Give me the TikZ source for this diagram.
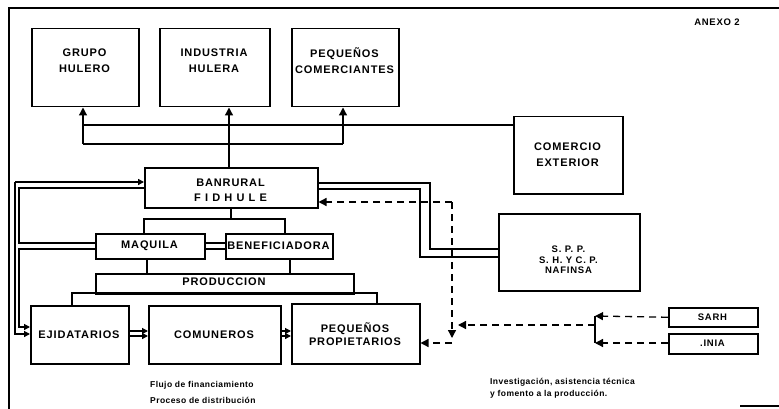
\documentclass[tikz,border=0pt]{standalone}
\usepackage{fontspec}
\setmainfont{Liberation Sans}
\newfontfamily\boxfont[LetterSpace=8]{Liberation Sans}
\newfontfamily\widefont[LetterSpace=38]{Liberation Sans}
\newfontfamily\notefont[LetterSpace=5]{Liberation Sans}
\usetikzlibrary{arrows.meta}
\begin{document}
\begin{tikzpicture}[x=1pt,y=-1pt,
  box/.style={draw, line width=1.5pt, anchor=north west, inner sep=0pt},
  lbl/.style={align=center, inner sep=0pt, font=\boxfont\bfseries\fontsize{11}{16}\selectfont},
  small/.style={align=center, inner sep=0pt, font=\boxfont\bfseries\fontsize{9.5}{10.5}\selectfont},
  note/.style={align=left, anchor=west, inner sep=0pt, font=\notefont\bfseries\fontsize{8.5}{12}\selectfont},
  conn/.style={line width=1.3pt},
  dsh/.style={line width=1.3pt, dash pattern=on 7pt off 5pt},
  fa/.style={-{Triangle[length=6pt,width=6pt]}},
  oa/.style={-{Triangle[length=8pt,width=8pt]}}
]
\useasboundingbox[fill=white] (0,0) rectangle (779,409);

% frame
\draw[line width=2.2pt] (9,409) -- (9,8) -- (779,8);
\draw[line width=1.2pt] (740,406) -- (779,406);
\node[small] (anexo) at (717,22) {ANEXO 2};

% boxes
\node[box, minimum width=107pt, minimum height=78pt] (grupo) at (31,28) {};
\node[box, minimum width=110pt, minimum height=78pt] (industria) at (159,28) {};
\node[box, minimum width=107pt, minimum height=78pt] (pcom) at (291,28) {};
\node[box, minimum width=109pt, minimum height=77pt] (comex) at (513,116) {};
\node[box, minimum width=173pt, minimum height=40pt] (banrural) at (144,167) {};
\node[box, minimum width=109pt, minimum height=25pt] (maquila) at (95,233) {};
\node[box, minimum width=107pt, minimum height=25pt] (benef) at (225,233) {};
\node[box, minimum width=258pt, minimum height=20pt] (produccion) at (95,273) {};
\node[box, minimum width=98pt, minimum height=58pt] (ejid) at (30,305) {};
\node[box, minimum width=132pt, minimum height=58pt] (comun) at (148,305) {};
\node[box, minimum width=128pt, minimum height=60pt] (pprop) at (291,303) {};
\node[box, minimum width=141pt, minimum height=77pt] (spp) at (498,213) {};
\node[box, minimum width=89pt, minimum height=19pt] (sarh) at (668,307) {};
\node[box, minimum width=89pt, minimum height=20pt] (inia) at (668,333) {};

% labels
\node[lbl] (grupo-t) at (84.5,61) {GRUPO\\HULERO};
\node[lbl] (industria-t) at (214,61) {INDUSTRIA\\HULERA};
\node[lbl] (pcom-t) at (344.5,61) {PEQUEÑOS\\COMERCIANTES};
\node[lbl] (comex-t) at (567.5,155) {COMERCIO\\EXTERIOR};
\node[lbl, font=\boxfont\bfseries\fontsize{11}{15}\selectfont] (banrural-t) at (230.5,190.5) {BANRURAL\\{\widefont FIDHULE}};
\node[lbl] (maquila-t) at (149.5,246) {MAQUILA};
\node[lbl] (benef-t) at (278.5,246) {BENEFICIADORA};
\node[lbl] (produccion-t) at (224,282) {PRODUCCION};
\node[lbl] (ejid-t) at (79,334.5) {EJIDATARIOS};
\node[lbl] (comun-t) at (214,334.5) {COMUNEROS};
\node[lbl, font=\boxfont\bfseries\fontsize{11}{13.5}\selectfont] (pprop-t) at (355,334) {PEQUEÑOS\\PROPIETARIOS};
\node[small] (spp-t) at (568.5,260) {S. P. P.\\S. H. Y C. P.\\NAFINSA};
\node[small] (sarh-t) at (712.5,317) {SARH};
\node[small] (inia-t) at (712.5,343.5) {.INIA};

% notes
\node[note] (n1) at (150,385) {Flujo de financiamiento};
\node[note] (n2) at (150,400) {Proceso de distribución};
\node[note] (n3) at (490,388) {Investigación, asistencia técnica\\y fomento a la producción.};

% coordinates
\coordinate (gx) at (83,144);
\coordinate (px) at (343,144);
\coordinate (lx) at (83,125);
\coordinate (dcorner) at (452,202);
\coordinate (ddown) at (452,338);
\coordinate (dleft) at (452,343);
\coordinate (djoin) at (458,325);
\coordinate (vtop) at (595,316);
\coordinate (vbot) at (595,343);
\coordinate (vmid) at (595,325);

% distribution to top
\draw[conn] (comex.west |- lx) -- (lx);
\draw[conn] (gx) -- (px);
\draw[conn, oa] (gx) -- (grupo.south -| gx);
\draw[conn, oa] (px) -- (pcom.south -| px);
\draw[conn, oa] (banrural.north -| 229,0) -- (industria.south -| 229,0);

% tree
\draw[conn] (banrural.south -| 231,0) -- (231,219);
\draw[conn] (maquila.north -| 144,0) -- (144,219) -- (285,219) -- (benef.north -| 285,0);
\draw[conn] (maquila.south -| 147,0) -- (produccion.north -| 147,0);
\draw[conn] (benef.south -| 290,0) -- (produccion.north -| 290,0);
\draw[conn] (ejid.north -| 72,0) -- (72,293) -- (377,293) -- (pprop.north -| 377,0);
\draw[conn] (maquila.east |- 0,243) -- (benef.west |- 0,243);
\draw[conn] (maquila.east |- 0,249) -- (benef.west |- 0,249);

% financing (left)
\draw[conn, fa] (15,182) -- (banrural.west |- 0,182);
\draw[conn, fa] (15,182) -- (15,334) -- (ejid.west |- 0,334);
\draw[conn] (banrural.west |- 0,188) -- (19,188) -- (19,243) -- (maquila.west |- 0,243);
\draw[conn, fa] (maquila.west |- 0,249) -- (19,249) -- (19,327) -- (ejid.west |- 0,327);

% financing (right)
\draw[conn] (banrural.east |- 0,183) -- (430,183) -- (430,249) -- (spp.west |- 0,249);
\draw[conn] (banrural.east |- 0,189) -- (420,189) -- (420,257) -- (spp.west |- 0,257);

% between producers
\draw[conn, fa] (ejid.east |- 0,331) -- (comun.west |- 0,331);
\draw[conn, fa] (ejid.east |- 0,336) -- (comun.west |- 0,336);
\draw[conn, fa] (comun.east |- 0,331) -- (pprop.west |- 0,331);
\draw[conn, fa] (comun.east |- 0,336) -- (pprop.west |- 0,336);

% research / assistance (dashed)
\draw[dsh, oa] (dcorner) -- (banrural.east |- dcorner);
\draw[dsh, oa] (dcorner) -- (ddown);
\draw[dsh, oa] (dleft) -- (pprop.east |- dleft);
\draw[dsh, oa] (vmid) -- (djoin);
\draw[conn] (vtop) -- (vbot);
\draw[dsh, oa] (sarh.west) -- (vtop);
\draw[dsh, oa] (inia.west |- vbot) -- (vbot);
\end{tikzpicture}
\end{document}
